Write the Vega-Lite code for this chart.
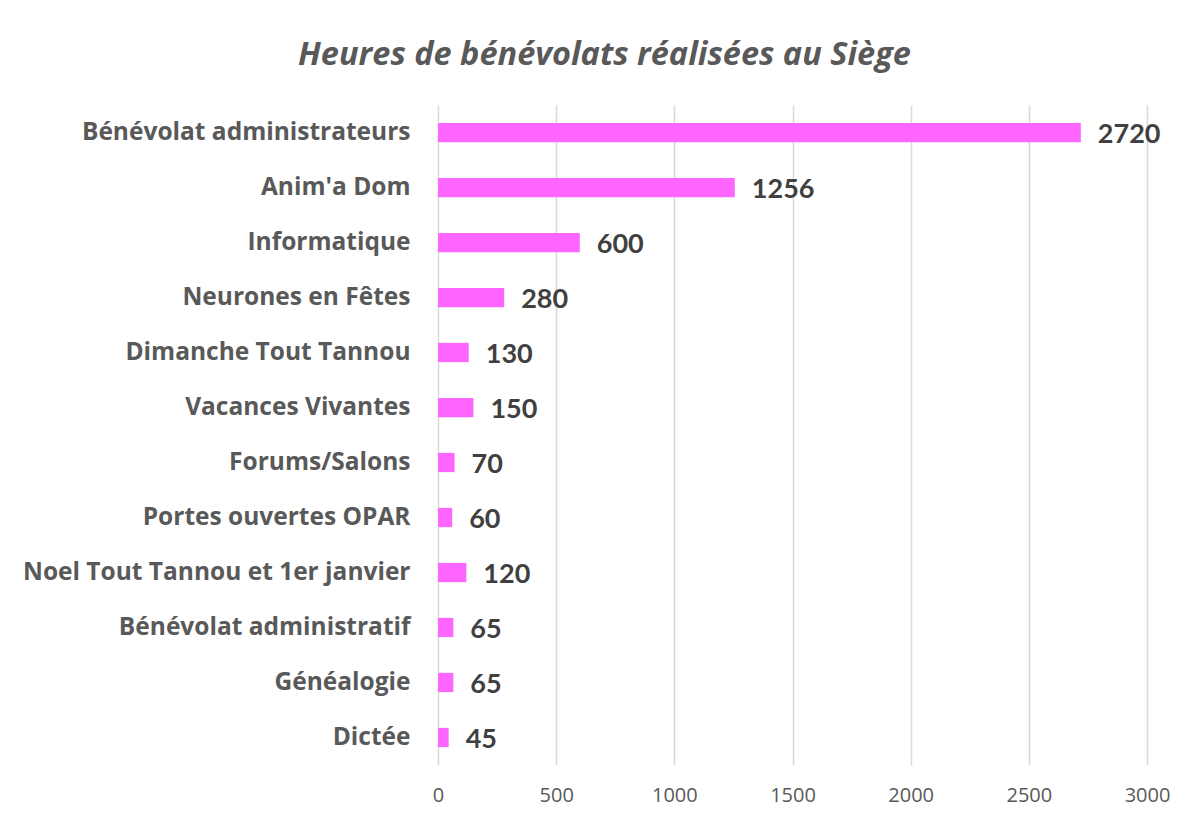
{
  "$schema": "https://vega.github.io/schema/vega-lite/v6.json",
  "autosize": {"type": "none"},
  "width": 709,
  "height": 660,
  "padding": {"left": 438, "top": 105, "right": 47, "bottom": 56},
  "background": "white",
  "title": {
    "text": "Heures de bénévolats réalisées au Siège",
    "font": "Open Sans",
    "fontSize": 32.5,
    "fontStyle": "italic",
    "fontWeight": "bold",
    "color": "#595959",
    "anchor": "middle",
    "dx": -188,
    "offset": 34
  },
  "data": {
    "values": [
      {"activite": "Bénévolat administrateurs", "heures": 2720},
      {"activite": "Anim'a Dom", "heures": 1256},
      {"activite": "Informatique", "heures": 600},
      {"activite": "Neurones en Fêtes", "heures": 280},
      {"activite": "Dimanche Tout Tannou", "heures": 130},
      {"activite": "Vacances Vivantes", "heures": 150},
      {"activite": "Forums/Salons", "heures": 70},
      {"activite": "Portes ouvertes OPAR", "heures": 60},
      {"activite": "Noel Tout Tannou et 1er janvier", "heures": 120},
      {"activite": "Bénévolat administratif", "heures": 65},
      {"activite": "Généalogie", "heures": 65},
      {"activite": "Dictée", "heures": 45}
    ]
  },
  "encoding": {
    "y": {
      "field": "activite",
      "type": "nominal",
      "sort": null,
      "scale": {"paddingInner": 0.65, "paddingOuter": 0.325},
      "axis": {
        "title": null,
        "domain": false,
        "ticks": false,
        "labelPadding": 28,
        "labelFont": "Open Sans",
        "labelFontSize": 24.5,
        "labelFontWeight": "bold",
        "labelColor": "#595959",
        "labelLimit": 500
      }
    },
    "x": {
      "field": "heures",
      "type": "quantitative",
      "scale": {"domain": [0, 3000], "nice": false},
      "axis": {
        "title": null,
        "values": [0, 500, 1000, 1500, 2000, 2500, 3000],
        "format": "d",
        "domain": false,
        "ticks": false,
        "grid": true,
        "gridColor": "#d9d9d9",
        "gridWidth": 1.5,
        "labelFlush": false,
        "labelPadding": 20,
        "labelFont": "Open Sans",
        "labelFontSize": 20,
        "labelColor": "#595959"
      }
    }
  },
  "layer": [
    {"mark": {"type": "bar", "color": "#FF66FF"}},
    {
      "mark": {
        "type": "text",
        "align": "left",
        "baseline": "middle",
        "dx": 17,
        "dy": 2,
        "font": "Lato",
        "fontSize": 27,
        "fontWeight": "bold",
        "color": "#404040"
      },
      "encoding": {"text": {"field": "heures", "type": "quantitative"}}
    }
  ],
  "config": {"view": {"stroke": null}}
}
